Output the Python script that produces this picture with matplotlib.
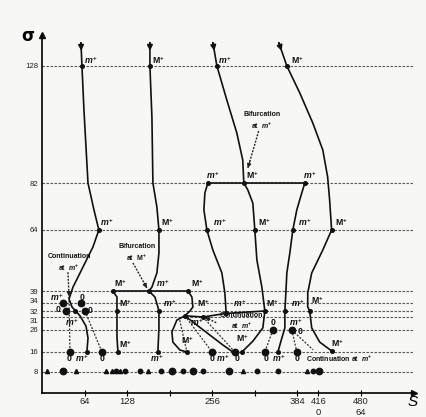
import numpy as np
import matplotlib
matplotlib.use('Agg')
import matplotlib.pyplot as plt
import matplotlib.transforms as mtransforms

plt.rcParams['font.family'] = ['Liberation Sans', 'DejaVu Sans']
plt.rcParams['mathtext.fontset'] = 'custom'
plt.rcParams['mathtext.rm'] = 'Liberation Sans:bold'
plt.rcParams['mathtext.it'] = 'Liberation Sans:bold:italic'

# Niveles de sigma (lineas punteadas) y ticks del eje S
sigma_levels = [8, 16, 26, 31, 32, 34, 39, 64, 82, 128]
x_ticks = [64, 128, 192, 256, 320, 384, 416, 480]
x_labels = ['64', '128', '', '256', '', '384', '416\n0', '480\n64']

# Rama 1 (m+)
rama1_s = [58, 59.5, 62.5, 68.6, 77.6, 85, 76, 61, 46, 40, 44.5, 50, 56.5, 65.6, 68.6, 67]
rama1_sig = [137, 128, 110.7, 82, 71.7, 64, 57, 48.8, 40.6, 35.7, 33, 32, 31.2, 27.5, 22.4, 16]

# Rama 2 (M+) y su bifurcacion en sigma=39
rama2_s = [162, 162, 165, 166.5, 172.5, 175.6, 175.6, 172.5, 165, 160.5]
rama2_sig = [137, 128, 107.9, 82, 72.8, 64, 54.6, 46.4, 40.6, 39]
h39_s = [106, 160.5, 219.3]
h39_sig = [39, 39, 39]
rama2c_s = [160.5, 169.5, 174, 175.6, 175.6, 174]
rama2c_sig = [39, 36.5, 33, 32, 26.8, 16]
rama2l_s = [106, 112.3, 112.3, 112.3, 113.8]
rama2l_sig = [39, 36.5, 32, 22.7, 16]
rama2r_s = [219.3, 225.3, 226.8, 222.3, 214.7]
rama2r_sig = [39, 36.5, 33, 32, 31.2]
lazo_s = [214.7, 202.6, 195.1, 196.6, 207.2, 217.8]
lazo_sig = [31.2, 29.8, 25.1, 20.5, 16.9, 16]
diag_s = [214.7, 232.8, 252.4, 272, 287]
diag_sig = [31.2, 27.9, 23.7, 19.2, 16]
cont_s = [214.7, 241.9, 277, 335.3]
cont_sig = [31.2, 31, 31.6, 32]

# Rama 3 (m+) y su bifurcacion en sigma=82
rama3_s = [257, 263, 278, 293, 302, 303.6]
rama3_sig = [137, 128, 114.6, 101.7, 91, 82]
h82_s = [249.4, 303.6, 395.6]
h82_sig = [82, 82, 82]
rama3c_s = [303.6, 309.7, 317.2, 320.2, 323.3, 330.8, 335.3, 332.3, 317.2, 300.6]
rama3c_sig = [82, 79.3, 74.3, 64, 51.7, 40.6, 32, 26.8, 20.9, 16]
rama3l_s = [249.4, 244.9, 243.4, 247.9, 256.9, 270.5, 275, 277]
rama3l_sig = [82, 78.2, 71.7, 64, 55.8, 46.4, 38.2, 31.6]
rama3r_s = [395.6, 391, 383.5, 377.5, 373, 368.5, 367, 365.5, 365.5, 361, 355]
rama3r_sig = [82, 78.2, 71.7, 64, 54.6, 46.4, 38.2, 32, 26.8, 22.4, 16]

# Rama 4 (M+)
rama4_s = [356.4, 368.5, 388, 407.6, 422.7, 430, 433, 436, 422.7, 406, 400, 400, 403, 406, 418, 436]
rama4_sig = [137, 128, 117.4, 105.6, 95, 84.4, 75.5, 64, 55.8, 46.4, 38.2, 33, 32, 26.8, 20.5, 16.5]

# Puntos sobre las ramas
pts_s = [59.5, 85, 49, 67, 162, 175.6, 106, 219.3, 160.5, 112.3, 175.6, 113.8, 174,
         263, 303.6, 249.4, 395.6, 320.2, 247.9, 377.5, 368.5, 436, 335.3, 365.5, 403,
         214.7, 241.9, 217.8, 300.6, 355, 436, 277]
pts_sig = [128, 64, 32, 16, 128, 64, 39, 39, 39, 32, 32, 16, 16,
           128, 82, 82, 82, 64, 64, 64, 128, 64, 32, 32, 32,
           31.2, 31, 16, 16, 16, 16.5, 31.6]

# Puntos "0"
cero_s = [31, 58, 35.4, 64, 41.4, 89.7, 255.8, 290, 335.3, 383.6, 347.4, 376]
cero_sig = [34, 34, 32, 32, 16, 16, 16, 16, 16, 16, 26, 26]

# Lineas punteadas entre puntos
punt_s0 = [40, 64, 214.7, 241.9, 347.4, 376, 376, 207]
punt_sig0 = [36.5, 32, 31.2, 31, 26, 26, 26, 29.8]
punt_s1 = [41.4, 89.7, 255.8, 290, 335.3, 383.6, 408, 217.8]
punt_sig1 = [16, 16, 16, 16, 16, 16, 17, 16]

# Fila de puntos en sigma=8
fila8_s = [7, 31, 50.5, 95.7, 104.7, 110.8, 116.8, 124.3, 147, 159, 178.6, 195, 211.7,
           226.8, 241.9, 281, 302, 323.3, 355, 398.6, 407.6, 416.6]
fila8_tipo = ['t', 'g', 't', 't', 't', 'c', 't', 'c', 'c', 't', 'c', 'g', 'c',
              'g', 'c', 'g', 't', 'c', 'c', 't', 'c', 'g']

# Etiquetas m+ / M+ / 0
lab_s = [73, 97, 44.5, 59.5, 22, 59.5, 23.4, 71.6, 40, 89.7,
         174, 188, 117, 181.6, 234, 124.3, 192, 242, 124.3, 172, 232, 218,
         275, 383.6, 257, 317, 403, 267, 335, 395.6, 451,
         298, 346, 385, 414, 301, 348, 382, 388, 444,
         255, 272, 293, 337, 357, 384]
lab_sig = [130.3, 67, 29, 13.5, 36.5, 36.5, 32.5, 32.2, 13.5, 13.5,
           130.3, 67, 42.3, 42.3, 42.3, 34, 34, 34, 19.6, 13.5, 29, 21.5,
           130.3, 130.3, 85, 85, 85, 67, 67, 67, 67,
           34, 34, 34, 35.2, 22.4, 29, 29, 25.1, 20,
           13.5, 13.5, 13.5, 13.5, 13.5, 13.5]
lab_txt = ['m', 'm', 'm', 'm', 'm', '0', '0', '0', '0', '0',
           'M', 'M', 'M', 'm', 'M', 'M', 'm', 'M', 'M', 'm', 'm', 'M',
           'm', 'M', 'm', 'M', 'm', 'm', 'M', 'm', 'M',
           'm', 'M', 'm', 'M', 'M', '0', 'm', '0', 'M',
           '0', 'm', '0', '0', 'm', '0']

# Anotaciones (texto, posicion, flecha)
notas = [('Continuation\nat  $m^{+}$', 40, 50.5, (38.4, 46.7), (40, 36.8)),
         ('Bifurcation\nat  $\\mathrm{M}^{+}$', 142, 54.5, (136.4, 50.5), (157.5, 40.2)),
         ('Bifurcation\nat  $m^{+}$', 331, 106.5, (326, 102.4), (309.7, 87.9)),
         ('Continuation\nat  $m^{+}$', 300, 29.3, (262, 28.8), (245, 30.9))]

# Escala vertical del dibujo (esquematica, no lineal)
sig_k = [-20, 0, 8, 16, 26, 31, 32, 34, 39, 64, 82, 128, 140, 300]
pos_k = [-51, 0, 21, 41, 63, 76, 82, 90, 102, 163, 210, 327, 358, 771]


def fwd(v):
    return np.interp(v, sig_k, pos_k)


def inv(p):
    return np.interp(p, pos_k, sig_k)


fondo = '#f7f7f5'
fig = plt.figure(figsize=(4.27, 4.17), dpi=100, facecolor=fondo)
ax = fig.add_axes([42.5 / 427, 24 / 417, 372 / 427, 358 / 417])
ax.set_facecolor(fondo)
ax.set_yscale('function', functions=(fwd, inv))
ax.set_xlim(0, 561)
ax.set_ylim(0, 140)

for lv in sigma_levels:
    ax.plot([0, 561], [lv, lv], color='#555555', lw=0.8, ls=(0, (2.2, 1.4)), zorder=1)

ramas = [(rama1_s, rama1_sig), (rama2_s, rama2_sig), (h39_s, h39_sig), (rama2c_s, rama2c_sig),
         (rama2l_s, rama2l_sig), (rama2r_s, rama2r_sig), (lazo_s, lazo_sig), (diag_s, diag_sig),
         (cont_s, cont_sig), (rama3_s, rama3_sig), (h82_s, h82_sig), (rama3c_s, rama3c_sig),
         (rama3l_s, rama3l_sig), (rama3r_s, rama3r_sig), (rama4_s, rama4_sig)]
for s, sg in ramas:
    ax.plot(s, sg, color='#111111', lw=1.2, solid_joinstyle='round', solid_capstyle='round', zorder=3)

# Flechas superiores
for s, sg in [(rama1_s, rama1_sig), (rama2_s, rama2_sig), (rama3_s, rama3_sig), (rama4_s, rama4_sig)]:
    tip = (s[0] + (s[1] - s[0]) * 0.35, sg[0] + (sg[1] - sg[0]) * 0.35)
    ax.annotate('', xy=tip, xytext=(s[0], sg[0]),
                arrowprops=dict(arrowstyle='-|>', color='#111111', lw=1.2, mutation_scale=8,
                                shrinkA=0, shrinkB=0), zorder=4)

for a, b, c, d in zip(punt_s0, punt_sig0, punt_s1, punt_sig1):
    ax.plot([a, c], [b, d], color='#333333', lw=0.9, ls=(0, (1.6, 1.2)), zorder=2)

ax.plot(pts_s, pts_sig, 'o', color='#111111', ms=2.6, zorder=5)
ax.plot(cero_s, cero_sig, 'o', color='#111111', ms=4.6, zorder=5)

for s, t in zip(fila8_s, fila8_tipo):
    if t == 't':
        ax.plot(s, 8.4, '^', color='#111111', ms=3, zorder=5)
    elif t == 'g':
        ax.plot(s, 8.4, 'o', color='#111111', ms=4.6, zorder=5)
    else:
        ax.plot(s, 8.4, 'o', color='#111111', ms=3.2, zorder=5)

for s, sg, t in zip(lab_s, lab_sig, lab_txt):
    if t == 'm':
        txt = '$m^{+}$'
    elif t == 'M':
        txt = '$\\mathrm{M}^{+}$'
    else:
        txt = '0'
    ax.text(s, sg, txt, fontsize=6.3, fontweight='bold', ha='center', va='center',
            color='#111111', zorder=6)

for txt, tx, ty, p0, p1 in notas:
    ax.text(tx, ty, txt, fontsize=5, fontweight='bold', ha='center', va='center',
            linespacing=1.3, color='#111111', zorder=6)
    ax.plot([p0[0], p1[0]], [p0[1], p1[1]], color='#222222', lw=1.0, ls=(0, (1.4, 1.0)), zorder=4)
    q = (p1[0] - (p1[0] - p0[0]) * 0.2, p1[1] - (p1[1] - p0[1]) * 0.2)
    ax.annotate('', xy=p1, xytext=q,
                arrowprops=dict(arrowstyle='-|>', color='#222222', lw=0.8, mutation_scale=6,
                                shrinkA=0, shrinkB=0), zorder=4)

ax.text(448, 13.2, 'Continuation at  $m^{+}$', fontsize=5, fontweight='bold', ha='center',
        va='center', color='#111111', zorder=6)

# Ejes
for lado in ['top', 'right']:
    ax.spines[lado].set_visible(False)
ax.spines['left'].set_linewidth(1.2)
ax.spines['bottom'].set_linewidth(1.2)
ax.plot(0, 1, '^', color='#111111', ms=4, transform=ax.transAxes, clip_on=False)
ax.plot(1, 0, '>', color='#111111', ms=4, transform=ax.transAxes, clip_on=False)

ax.set_yticks(sigma_levels)
ax.set_yticklabels([str(v) for v in sigma_levels])
ax.yaxis.set_minor_locator(matplotlib.ticker.NullLocator())
ax.tick_params(axis='y', length=0, pad=3, labelsize=5.6)
ax.set_xticks(x_ticks)
ax.set_xticklabels(x_labels)
ax.tick_params(axis='x', direction='inout', length=4, width=0.8, pad=1, labelsize=6.8)
for lbl in ax.get_xticklabels() + ax.get_yticklabels():
    lbl.set_color('#222222')

# separar un poco las etiquetas 34, 32 y 31, que quedan muy juntas
desp = {'34': 1.5, '31': -2.2}
for lbl in ax.get_yticklabels():
    dy = desp.get(lbl.get_text(), 0)
    if dy:
        lbl.set_transform(lbl.get_transform() + mtransforms.ScaledTranslation(0, dy / 72, fig.dpi_scale_trans))

fig.text(28 / 427, 1 - 36 / 417, 'σ', fontsize=12, fontweight='bold', ha='center', va='center',
         family='DejaVu Sans')
fig.text(413 / 427, 1 - 402 / 417, 'S', fontsize=11, style='italic', ha='center', va='center')

fig.savefig('out.png', dpi=100, facecolor=fondo)
